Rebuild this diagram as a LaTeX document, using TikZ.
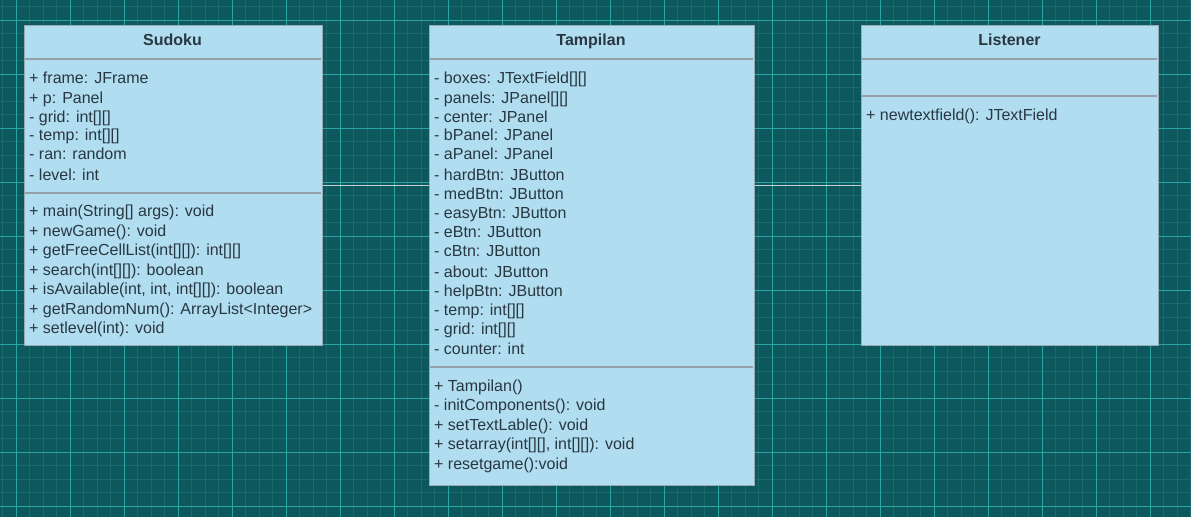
\documentclass[tikz,border=0pt]{standalone}
\usepackage{fontspec}
\setmainfont{Liberation Sans}
\definecolor{bg}{RGB}{12,88,92}
\definecolor{gminor}{RGB}{24,106,110}
\definecolor{gmajor}{RGB}{42,165,165}
\definecolor{boxfill}{RGB}{177,221,240}
\definecolor{boxline}{RGB}{150,170,180}
\definecolor{sepline}{RGB}{150,160,166}
\definecolor{txt}{RGB}{40,55,65}
\definecolor{conn}{RGB}{200,208,212}
\begin{document}
\begin{tikzpicture}[x=1bp,y=-1bp,
  classbox/.style={draw=boxline, fill=boxfill, line width=1bp, inner sep=0pt},
  title/.style={font=\fontsize{16bp}{19bp}\selectfont\bfseries, text=txt, inner sep=0pt, anchor=base},
  member/.style={font=\fontsize{16bp}{19bp}\selectfont, text=txt, inner sep=0pt, anchor=base west},
  sep/.style={draw=sepline, line width=1.5bp},
  link/.style={draw=conn, line width=1.5bp},
  gmin/.style={draw=gminor, line width=0.7bp},
  gmaj/.style={draw=gmajor, line width=0.9bp}]
% background and grid
\fill[bg] (0,0) rectangle (1191,517);
\useasboundingbox (0,0) rectangle (1191,517);
\foreach \i in {-1,...,88} {\draw[gmin] ({16+13.5*\i},0) -- ({16+13.5*\i},517);}
\foreach \i in {-1,...,37} {\draw[gmin] (0,{20+13.5*\i}) -- (1191,{20+13.5*\i});}
\foreach \i in {0,...,21} {\draw[gmaj] ({16+54*\i},0) -- ({16+54*\i},517);}
\foreach \i in {0,...,9} {\draw[gmaj] (0,{20+54*\i}) -- (1191,{20+54*\i});}
% class boxes
\node[classbox, minimum width=298bp, minimum height=319.5bp, anchor=north west] (sudoku) at (23.5,25.5) {};
\node[classbox, minimum width=325bp, minimum height=459.5bp, anchor=north west] (tampilan) at (428.5,25.5) {};
\node[classbox, minimum width=297bp, minimum height=319.5bp, anchor=north west] (listener) at (861,25.5) {};
% connectors
\draw[link] (sudoku.east) -- (sudoku.east -| tampilan.west);
\draw[link] (listener.west -| tampilan.east) -- (listener.west);
% separators
\draw[sep] (24.5,59) -- (320.5,59);
\draw[sep] (24.5,193) -- (320.5,193);
\draw[sep] (429.5,59) -- (752.5,59);
\draw[sep] (429.5,367) -- (752.5,367);
\draw[sep] (862,59) -- (1157,59);
\draw[sep] (862,96) -- (1157,96);
% titles
\node[title] (sudokutitle) at (172.5,45.8) {Sudoku};
\node[title] (tampilantitle) at (591,45.8) {Tampilan};
\node[title] (listenertitle) at (1009.5,45.8) {Listener};
% Sudoku members
\foreach \t/\y [count=\i] in {{+ frame: JFrame}/77.5, {+ p: Panel}/97.5, {- grid: int[][]}/116.5, {- temp: int[][]}/135, {- ran: random}/154, {- level: int}/174.5,
  {+ main(String[] args): void}/211, {+ newGame(): void}/231, {+ getFreeCellList(int[][]): int[][]}/250, {+ search(int[][]): boolean}/269.5, {+ isAvailable(int, int, int[][]): boolean}/289, {+ getRandomNum(): ArrayList<Integer>}/308.5, {+ setlevel(int): void}/327.5}
  {\node[member] (s\i) at (29,\y+5.7) {\t};}
% Tampilan members
\foreach \t/\y [count=\i] in {{- boxes: JTextField[][]}/78, {- panels: JPanel[][]}/98, {- center: JPanel}/116.5, {- bPanel: JPanel}/135, {- aPanel: JPanel}/154, {- hardBtn: JButton}/174.5, {- medBtn: JButton}/193.5, {- easyBtn: JButton}/212.5, {- eBtn: JButton}/232, {- cBtn: JButton}/251, {- about: JButton}/271.5, {- helpBtn: JButton}/291, {- temp: int[][]}/310, {- grid: int[][]}/329, {- counter: int}/348.5,
  {+ Tampilan()}/386, {- initComponents(): void}/405, {+ setTextLable(): void}/424.5, {+ setarray(int[][], int[][]): void}/444, {+ resetgame():void}/463.5}
  {\node[member] (t\i) at (434,\y+5.7) {\t};}
% Listener members
\node[member] (l1) at (866,115+5.7) {+ newtextfield(): JTextField};
\end{tikzpicture}
\end{document}
